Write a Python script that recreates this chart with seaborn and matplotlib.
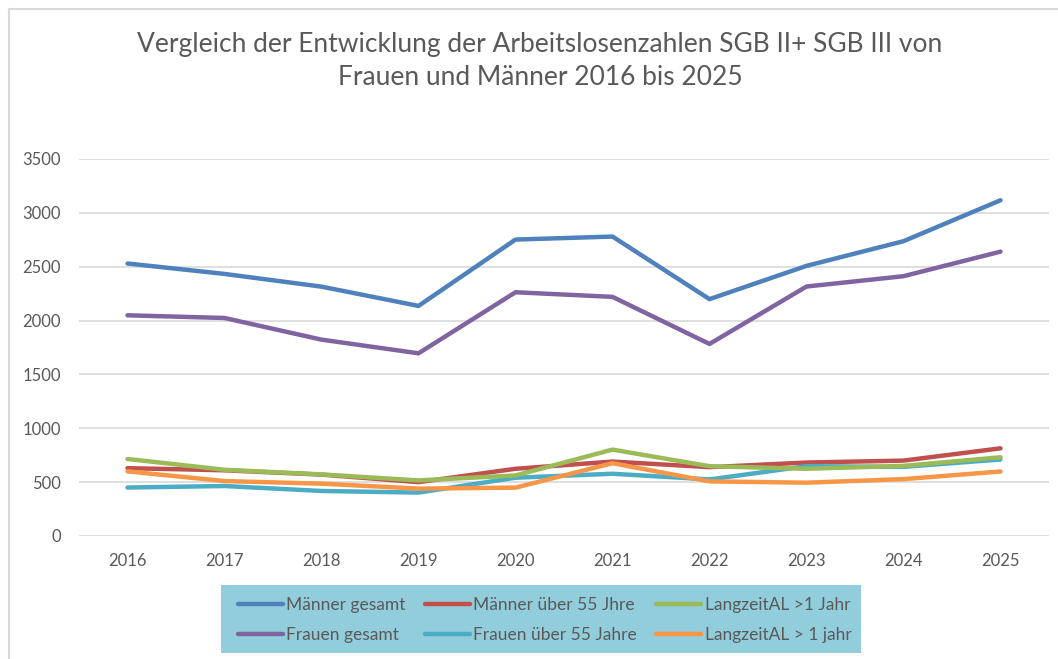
import seaborn as sns
import pandas as pd
from matplotlib import pyplot as plt
from matplotlib.patches import Rectangle


years = [2016, 2017, 2018, 2019, 2020, 2021, 2022, 2023, 2024, 2025]

maenner_gesamt = [2530, 2433, 2315, 2136, 2752, 2780, 2199, 2508, 2737, 3117]
frauen_gesamt = [2049, 2024, 1823, 1696, 2263, 2220, 1783, 2316, 2412, 2640]
maenner_55 = [630, 610, 570, 500, 624, 691, 639, 682, 700, 814]
frauen_55 = [450, 464, 418, 403, 541, 578, 525, 648, 642, 710]
langzeit_a = [715, 615, 572, 516, 562, 802, 648, 624, 651, 731]
langzeit_b = [600, 510, 486, 440, 449, 676, 507, 495, 528, 599]

series_names = [
    "Männer gesamt",
    "Frauen gesamt",
    "Männer über 55 Jhre",
    "Frauen über 55 Jahre",
    "LangzeitAL >1 Jahr",
    "LangzeitAL > 1 jahr",
]
series_colors = ["#4F81BD", "#8064A2", "#C0504D", "#4BACC6", "#9BBB59", "#F79646"]

TITLE = "Vergleich der Entwicklung der Arbeitslosenzahlen SGB II+ SGB III von\nFrauen und Männer 2016 bis 2025"
GREY = "#595959"


def main():
    sns.set_theme(style="white")
    plt.rcParams["font.family"] = ["Lato", "DejaVu Sans"]

    values = [maenner_gesamt, frauen_gesamt, maenner_55, frauen_55, langzeit_a, langzeit_b]
    frames = []
    for name, vals in zip(series_names, values):
        frames.append(pd.DataFrame({"Jahr": [str(y) for y in years], "Wert": vals, "Reihe": name}))
    df = pd.concat(frames, ignore_index=True)

    fig = plt.figure(figsize=(10.58, 6.59), dpi=100)
    W, H = 1058, 659
    ax = fig.add_axes([79 / W, 1 - 536 / H, (1049 - 79) / W, (536 - 159) / H])

    # chart frame (top + left edge visible in the original)
    fig.add_artist(plt.Line2D([9 / W, 1], [1 - 9 / H, 1 - 9 / H], color="#D9D9D9", lw=1.5,
                              transform=fig.transFigure))
    fig.add_artist(plt.Line2D([9 / W, 9 / W], [0, 1 - 9 / H], color="#D9D9D9", lw=1.5,
                              transform=fig.transFigure))

    sns.lineplot(
        data=df,
        x="Jahr",
        y="Wert",
        hue="Reihe",
        hue_order=series_names,
        palette=dict(zip(series_names, series_colors)),
        linewidth=3.2,
        legend=False,
        ax=ax,
    )
    for line in ax.lines:
        line.set_solid_capstyle("round")
        line.set_solid_joinstyle("round")

    ax.set_xlim(-0.5, len(years) - 0.5)
    ax.set_ylim(0, 3500)
    ax.set_yticks(range(0, 3501, 500))
    ax.yaxis.grid(True, color="#D9D9D9", lw=1.2)
    ax.xaxis.grid(False)
    ax.set_axisbelow(True)
    for s in ax.spines.values():
        s.set_visible(False)
    ax.set_xlabel("")
    ax.set_ylabel("")
    ax.tick_params(axis="both", length=0, colors=GREY, labelsize=12)
    ax.tick_params(axis="y", pad=13)
    ax.tick_params(axis="x", pad=12)

    fig.text(540 / W, 1 - 61 / H, TITLE, ha="center", va="center", fontsize=19,
             color=GREY, linespacing=1.42)

    # legend box
    handles = [plt.Line2D([], [], color=c, lw=3.2, solid_capstyle="round") for c in series_colors]
    fig.add_artist(Rectangle((221 / W, 1 - 653 / H), 640 / W, 68 / H, transform=fig.transFigure,
                             facecolor="#92CDDC", edgecolor="none", zorder=0))
    fig.legend(
        handles,
        series_names,
        ncol=3,
        loc="center left",
        bbox_to_anchor=(222 / W, 1 - 620 / H),
        frameon=False,
        fontsize=12.5,
        handlelength=2.6,
        handletextpad=0.2,
        columnspacing=1.1,
        labelspacing=0.85,
        labelcolor=GREY,
    )

    plt.savefig("out.png", dpi=100)


if __name__ == "__main__":
    main()
